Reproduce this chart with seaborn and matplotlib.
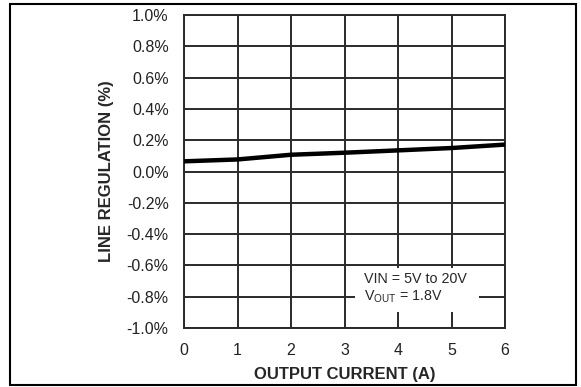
import matplotlib
matplotlib.use("Agg")
import matplotlib.pyplot as plt
import seaborn as sns
import pandas as pd
from matplotlib.patches import Rectangle

current = [0, 1, 2, 3, 4, 5, 6]
regulation = [0.065, 0.077, 0.107, 0.12, 0.135, 0.15, 0.172]
yticks = [1.0, 0.8, 0.6, 0.4, 0.2, 0.0, -0.2, -0.4, -0.6, -0.8, -1.0]
ytick_labels = ["1.0%", "0.8%", "0.6%", "0.4%", "0.2%", "0.0%", "-0.2%", "-0.4%", "-0.6%", "-0.8%", "-1.0%"]
xticks = [0, 1, 2, 3, 4, 5, 6]

sns.set_style("white")
plt.rcParams['font.family'] = ['Liberation Sans', 'DejaVu Sans']
plt.rcParams['mathtext.fontset'] = 'custom'
plt.rcParams['mathtext.rm'] = 'Liberation Sans'
plt.rcParams['mathtext.it'] = 'Liberation Sans'

df = pd.DataFrame({"current": current, "regulation": regulation})

fig = plt.figure(figsize=(5.81, 3.87), dpi=100)
ax = fig.add_axes([184/581, 1 - 328/387, (505-184)/581, (328-15)/387])

sns.lineplot(data=df, x="current", y="regulation", ax=ax, color="black", linewidth=3.2, zorder=3)

ax.set_xlim(0, 6)
ax.set_ylim(-1.0, 1.0)
ax.set_xticks(xticks)
ax.set_xticklabels([str(x) for x in xticks])
ax.set_yticks(yticks)
ax.set_yticklabels(ytick_labels)
ax.tick_params(axis="both", length=0, labelsize=11.5, colors="#222222")
ax.tick_params(axis="x", pad=11)
ax.tick_params(axis="y", pad=11)
ax.grid(True, color="#2a2a2a", linewidth=1.4)
ax.set_axisbelow(True)
for s in ax.spines.values():
    s.set_color("#2a2a2a")
    s.set_linewidth(1.4)

ax.set_xlabel("OUTPUT CURRENT (A)", fontsize=12, fontweight="bold", labelpad=6)
ax.set_ylabel("LINE REGULATION (%)", fontsize=12, fontweight="bold", labelpad=9)

ax.add_patch(Rectangle((3.2, -0.898), 2.32, 0.28, facecolor="white", edgecolor="none", zorder=1))
ax.text(3.37, -0.69, "VIN = 5V to 20V", fontsize=10.3, va="center", ha="left", zorder=4)
ax.text(3.37, -0.8, r"V$_{\mathrm{OUT}}$ = 1.8V", fontsize=10.3, va="center", ha="left", zorder=4)

fig.patches.append(Rectangle((10/581, 2/387), (576-10)/581, (384-3)/387, transform=fig.transFigure,
                             fill=False, edgecolor="black", linewidth=1.5))

fig.savefig("out.png", dpi=100)
